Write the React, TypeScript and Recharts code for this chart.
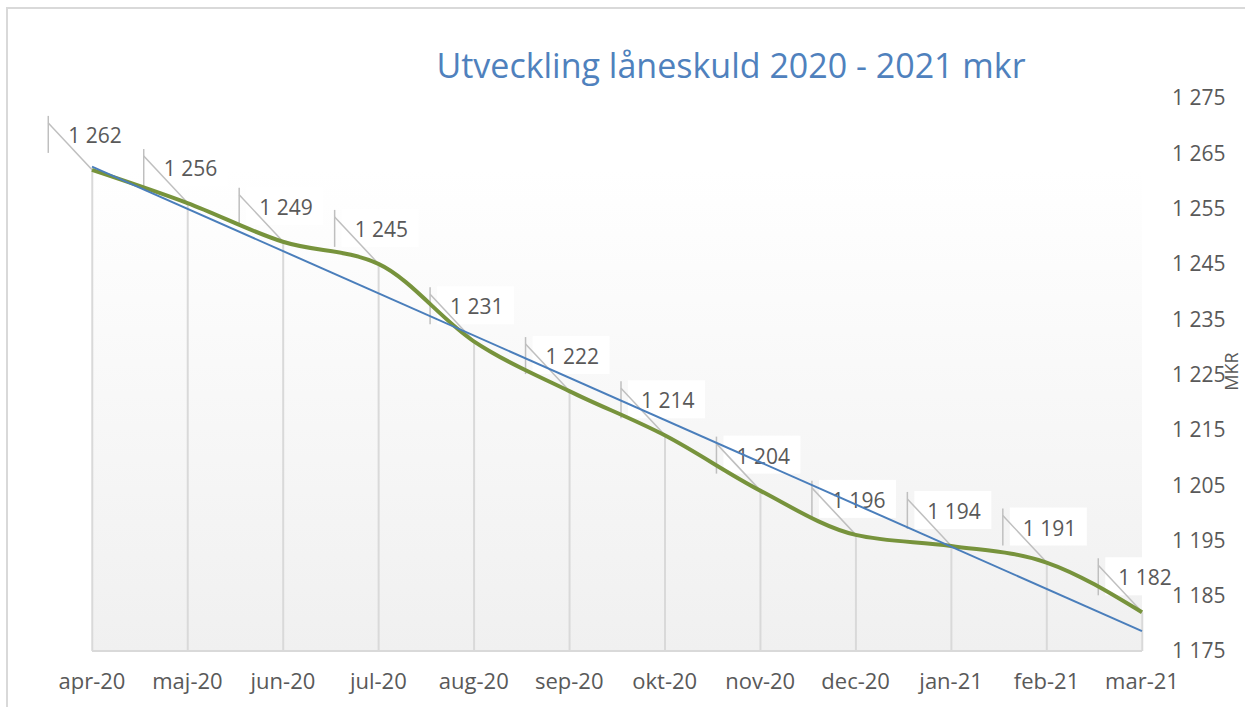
import React from "react";
import {
  ComposedChart,
  Bar,
  Line,
  XAxis,
  YAxis,
  ReferenceArea,
} from "recharts";

const months = [
  "apr-20",
  "maj-20",
  "jun-20",
  "jul-20",
  "aug-20",
  "sep-20",
  "okt-20",
  "nov-20",
  "dec-20",
  "jan-21",
  "feb-21",
  "mar-21",
];

const debt = [1262, 1256, 1249, 1245, 1231, 1222, 1214, 1204, 1196, 1194, 1191, 1182];

// linear trend, start and end values
const trendEnds = [1262.6, 1178.6];

const yTicks = [1175, 1185, 1195, 1205, 1215, 1225, 1235, 1245, 1255, 1265, 1275];

const data = months.map((month, i) => ({
  idx: i,
  month,
  value: debt[i],
  trend: i === 0 ? trendEnds[0] : i === months.length - 1 ? trendEnds[1] : null,
}));

const fmt = (v: number) => `${Math.floor(v / 1000)} ${String(Math.round(v) % 1000).padStart(3, "0")}`;

const FONT = "'Open Sans', sans-serif";
const GRAY_TEXT = "#595959";

// drop line from the point to the axis, plus the data label callout
const DropAndCallout = (props: any) => {
  const { x, y, width, height, payload } = props;
  if (x == null || y == null) return <g />;
  const cx = x + width / 2;
  const cy = y;
  return (
    <g>
      <line x1={cx} y1={cy} x2={cx} y2={cy + height} stroke="#d9d9d9" strokeWidth={2} />
      <rect x={cx - 37} y={cy - 55} width={77} height={38} fill="#ffffff" />
      <line x1={cx - 44} y1={cy - 54} x2={cx - 44} y2={cy - 17} stroke="#bfbfbf" strokeWidth={1.5} />
      <line x1={cx - 44} y1={cy - 47} x2={cx} y2={cy} stroke="#bfbfbf" strokeWidth={1.5} />
      <text x={cx - 24} y={cy - 27} fill={GRAY_TEXT} fontSize={21} fontFamily={FONT}>
        {fmt(payload.value)}
      </text>
    </g>
  );
};

const MkrLabel = (props: any) => {
  const vb = props.viewBox || {};
  const x = vb.x + vb.width - 11;
  const y = vb.y + vb.height / 2 - 3;
  return (
    <text
      x={x}
      y={y}
      transform={`rotate(-90 ${x} ${y})`}
      textAnchor="middle"
      dominantBaseline="central"
      fill={GRAY_TEXT}
      fontSize={18}
      fontFamily={FONT}
    >
      MKR
    </text>
  );
};

export default function App() {
  return (
    <div
      style={{
        position: "absolute",
        left: 0,
        top: 0,
        width: 1245,
        height: 707,
        overflow: "hidden",
        background: "#ffffff",
        fontFamily: FONT,
      }}
    >
      <div
        style={{
          position: "absolute",
          left: 6,
          top: 7,
          width: 1400,
          height: 800,
          border: "2px solid #d9d9d9",
        }}
      />
      <div
        style={{
          position: "absolute",
          left: 731,
          top: 65,
          transform: "translate(-50%, -50%)",
          whiteSpace: "nowrap",
          color: "#4f81bd",
          fontSize: 34,
          lineHeight: 1,
        }}
      >
        Utveckling låneskuld 2020 - 2021 mkr
      </div>
      <ComposedChart
        width={1245}
        height={707}
        data={data}
        margin={{ top: 98, right: 3, bottom: 20, left: 92 }}
        style={{ position: "absolute", left: 0, top: 0 }}
      >
        <defs>
          <linearGradient id="plotBg" x1="0" y1="0" x2="0" y2="1">
            <stop offset="0%" stopColor="#ffffff" />
            <stop offset="100%" stopColor="#f0f0f0" />
          </linearGradient>
        </defs>
        <XAxis
          type="number"
          dataKey="idx"
          domain={[0, months.length - 1]}
          ticks={months.map((_, i) => i)}
          tickFormatter={(i: number) => months[i]}
          interval={0}
          axisLine={{ stroke: "#d9d9d9", strokeWidth: 2 }}
          tickLine={false}
          tickMargin={16}
          height={36}
          tick={{ fill: GRAY_TEXT, fontSize: 22, fontFamily: FONT }}
        />
        <YAxis
          orientation="right"
          domain={[1175, 1275]}
          ticks={yTicks}
          tickFormatter={fmt}
          axisLine={false}
          tickLine={false}
          tickMargin={24}
          width={100}
          tick={{ fill: GRAY_TEXT, fontSize: 21, fontFamily: FONT }}
          label={<MkrLabel />}
        />
        <ReferenceArea
          x1={0}
          x2={months.length - 1}
          y1={1175}
          y2={debt[0]}
          fill="url(#plotBg)"
          fillOpacity={1}
          stroke="none"
        />
        <ReferenceArea
          x1={0}
          x2={0}
          y1={1175}
          y2={debt[0]}
          fill="none"
          stroke="#d9d9d9"
          strokeWidth={2}
        />
        <Bar
          dataKey="value"
          barSize={2}
          fill="#d9d9d9"
          shape={DropAndCallout}
          isAnimationActive={false}
        />
        <Line
          type="monotone"
          dataKey="value"
          stroke="#77933c"
          strokeWidth={4}
          dot={false}
          activeDot={false}
          isAnimationActive={false}
        />
        <Line
          dataKey="trend"
          connectNulls
          stroke="#4a7ebb"
          strokeWidth={2}
          dot={false}
          activeDot={false}
          isAnimationActive={false}
        />
      </ComposedChart>
    </div>
  );
}
